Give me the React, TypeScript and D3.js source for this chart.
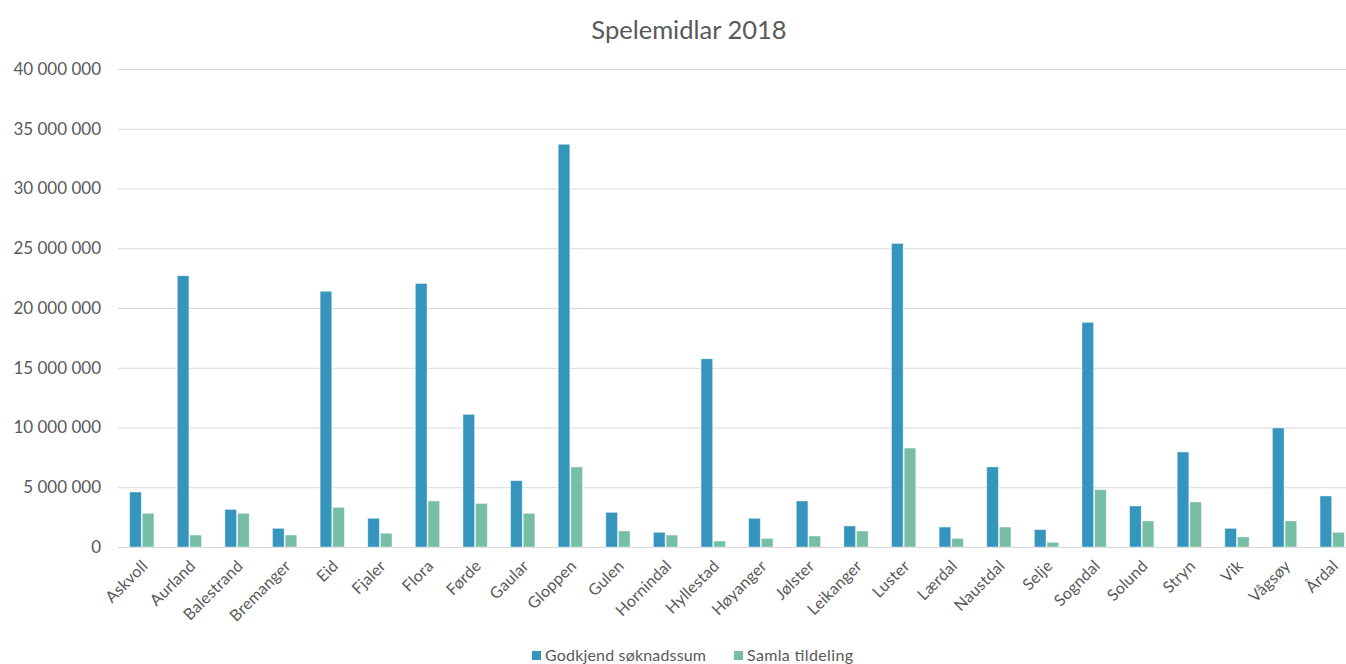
import React, { useRef, useEffect } from 'react';
import * as d3 from 'd3';

const kommunar = ['Askvoll', 'Aurland', 'Balestrand', 'Bremanger', 'Eid', 'Fjaler', 'Flora', 'Førde', 'Gaular', 'Gloppen', 'Gulen', 'Hornindal', 'Hyllestad', 'Høyanger', 'Jølster', 'Leikanger', 'Luster', 'Lærdal', 'Naustdal', 'Selje', 'Sogndal', 'Solund', 'Stryn', 'Vik', 'Vågsøy', 'Årdal'];

const godkjend = [4600000, 22700000, 3150000, 1560000, 21400000, 2400000, 22050000, 11100000, 5550000, 33700000, 2900000, 1230000, 15750000, 2400000, 3850000, 1760000, 25400000, 1670000, 6700000, 1450000, 18800000, 3430000, 7950000, 1560000, 9960000, 4270000];

const tildeling = [2820000, 1000000, 2820000, 1000000, 3320000, 1150000, 3850000, 3650000, 2820000, 6700000, 1340000, 1000000, 500000, 720000, 920000, 1340000, 8280000, 720000, 1670000, 390000, 4800000, 2180000, 3770000, 840000, 2180000, 1230000];

const serieNamn = ['Godkjend søknadssum', 'Samla tildeling'];
const yTicks = [0, 5000000, 10000000, 15000000, 20000000, 25000000, 30000000, 35000000, 40000000];

const farger = ['#3595bd', '#78bea6'];
const font = 'Lato, "Noto Sans", sans-serif';

const App = () => {
  const svgRef = useRef<SVGSVGElement>(null);

  useEffect(() => {
    const svg = d3.select(svgRef.current);
    svg.selectAll('*').remove();

    const width = 1346;
    const left = 118, right = 1356, top = 69, bottom = 547;

    const fmt = (v: number) => d3.format(',')(v).replace(/,/g, ' ');

    const x = d3.scaleBand<string>().domain(kommunar).range([left, right])
      .paddingInner(0.49).paddingOuter(0.245);
    const x1 = d3.scaleBand<string>().domain(serieNamn).range([0, x.bandwidth()]).paddingInner(0.08);
    const y = d3.scaleLinear().domain([0, 40000000]).range([bottom, top]);

    // tittel
    svg.append('text')
      .attr('x', 689).attr('y', 39)
      .attr('text-anchor', 'middle')
      .style('font-family', font).style('font-size', '25.5px')
      .attr('fill', '#595959')
      .text('Spelemidlar 2018');

    // rutenett + y-akse
    const yAxis = svg.append('g')
      .attr('transform', `translate(${left},0)`)
      .call(d3.axisLeft(y).tickValues(yTicks).tickSize(-(width - left)).tickFormat((d) => fmt(+d)));
    yAxis.select('.domain').remove();
    yAxis.selectAll('.tick line').attr('stroke', '#d9d9d9').attr('stroke-width', 1);
    yAxis.selectAll('.tick text')
      .attr('x', -17)
      .attr('fill', '#595959')
      .style('font-family', font).style('font-size', '17px');

    // søyler
    const data = kommunar.map((k, i) => ({ k, verdi: [godkjend[i], tildeling[i]] }));
    const grupper = svg.append('g').selectAll('g').data(data).enter().append('g')
      .attr('transform', (d) => `translate(${x(d.k)},0)`);
    grupper.selectAll('rect')
      .data((d) => d.verdi.map((v, j) => ({ serie: serieNamn[j], v, j })))
      .enter().append('rect')
      .attr('x', (d) => x1(d.serie) as number)
      .attr('width', x1.bandwidth())
      .attr('y', (d) => y(d.v))
      .attr('height', (d) => bottom - y(d.v))
      .attr('fill', (d) => farger[d.j])
      .attr('stroke', '#ffffff').attr('stroke-opacity', 0.5).attr('stroke-width', 0.8);

    // x-etikettar
    svg.append('g').selectAll('text').data(kommunar).enter().append('text')
      .attr('text-anchor', 'end')
      .attr('transform', (d) => `translate(${(x(d) as number) + x.bandwidth() / 2 + 7},${bottom + 20}) rotate(-45)`)
      .attr('fill', '#595959')
      .style('font-family', font).style('font-size', '16px')
      .style('letter-spacing', '0.2px')
      .text((d) => d);

    // forklaring
    const legendX = [532, 734];
    const legendW = [161, 106];
    const leg = svg.append('g').selectAll('g').data(serieNamn).enter().append('g')
      .attr('transform', (d, i) => `translate(${legendX[i]},651)`);
    leg.append('rect').attr('width', 9).attr('height', 9).attr('fill', (d, i) => farger[i]);
    leg.append('text').attr('x', 13).attr('y', 10)
      .attr('fill', '#595959')
      .style('font-family', font).style('font-size', '16px')
      .attr('textLength', (d, i) => legendW[i])
      .attr('lengthAdjust', 'spacing')
      .text((d) => d);
  }, []);

  return (
    <svg ref={svgRef} width={1346} height={664} style={{ position: 'absolute', left: 0, top: 0 }} />
  );
};

export default App;
